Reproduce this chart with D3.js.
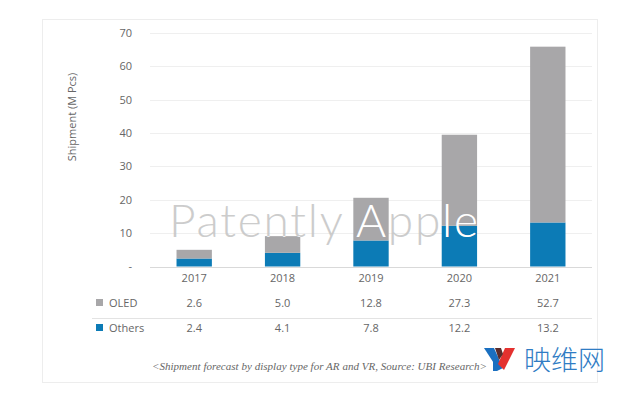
<!DOCTYPE html>
<html>
<head>
<meta charset="utf-8">
<script src="https://cdn.jsdelivr.net/npm/d3@7"></script>
<style>
  body { margin: 0; background: #fff; }
  svg { display: block; }
</style>
</head>
<body>
<div id="canvas"></div>
<script>
var years = ["2017", "2018", "2019", "2020", "2021"];
var oled = [2.6, 5.0, 12.8, 27.3, 52.7];
var others = [2.4, 4.1, 7.8, 12.2, 13.2];
var yTicks = [0, 10, 20, 30, 40, 50, 60, 70];
var seriesNames = ["OLED", "Others"];
var seriesColors = ["#a8a7a9", "#0c7bb6"];

var width = 640, height = 395;
var font = "'Open Sans', 'Noto Sans', sans-serif";
var svg = d3.select("#canvas").append("svg").attr("width", width).attr("height", height);

// panel
svg.append("rect").attr("x", 42.5).attr("y", 19.5).attr("width", 555).attr("height", 363)
    .attr("fill", "#fff").attr("stroke", "#ededed");

var x = d3.scaleBand().domain(years).range([150, 592]).paddingInner(0.6).paddingOuter(0.3);
var y = d3.scaleLinear().domain([0, 70]).range([266.5, 33]);

// grid
svg.selectAll("line.grid").data(yTicks).enter().append("line")
    .attr("class", "grid")
    .attr("x1", 150).attr("x2", 592)
    .attr("y1", function(d) { return Math.round(y(d)) + 0.5; })
    .attr("y2", function(d) { return Math.round(y(d)) + 0.5; })
    .attr("stroke", function(d) { return d == 0 ? "#d9d9d9" : "#efefef"; })
    .attr("stroke-width", 1);

svg.selectAll("text.ytick").data(yTicks).enter().append("text")
    .attr("class", "ytick")
    .attr("x", 132).attr("y", function(d) { return y(d); })
    .attr("dy", "0.35em")
    .attr("text-anchor", "end")
    .style("font-family", font).style("font-size", "11px").style("fill", "#666")
    .text(function(d) { return d == 0 ? "-" : d; });

svg.append("text")
    .attr("transform", "translate(76,117) rotate(-90)")
    .attr("text-anchor", "middle")
    .style("font-family", font).style("font-size", "11px").style("fill", "#666")
    .text("Shipment (M Pcs)");

// stacked bars
var rows = years.map(function(yr, i) { return { year: yr, OLED: oled[i], Others: others[i] }; });
var stack = d3.stack().keys(["Others", "OLED"])(rows);
var bars = svg.append("g");
stack.forEach(function(layer) {
    var col = seriesColors[seriesNames.indexOf(layer.key)];
    bars.selectAll(null).data(layer).enter().append("rect")
        .attr("x", function(d) { return x(d.data.year); })
        .attr("width", x.bandwidth())
        .attr("y", function(d) { return y(d[1]); })
        .attr("height", function(d) { return y(d[0]) - y(d[1]); })
        .attr("fill", col);
});

// clip for watermark inside bars
var clip = svg.append("clipPath").attr("id", "barclip");
rows.forEach(function(d) {
    clip.append("rect").attr("x", x(d.year)).attr("width", x.bandwidth())
        .attr("y", y(d.OLED + d.Others)).attr("height", y(0) - y(d.OLED + d.Others));
});

// watermark
function mark(g, fill) {
    return g.append("text")
        .attr("x", 169).attr("y", 237)
        .attr("textLength", 309)
        .style("font-family", "Lato, 'Open Sans', sans-serif")
        .style("font-weight", 300)
        .style("font-size", "46px")
        .style("fill", fill)
        .text("Patently Apple");
}
mark(svg, "#c4c4c4").style("opacity", 0.85);
mark(svg.append("g").attr("clip-path", "url(#barclip)"), "#ffffff");

// table
svg.selectAll("text.year").data(years).enter().append("text")
    .attr("class", "year")
    .attr("x", function(d) { return x(d) + x.bandwidth() / 2; })
    .attr("y", 282)
    .attr("text-anchor", "middle")
    .style("font-family", font).style("font-size", "11px").style("fill", "#666")
    .text(function(d) { return d; });

var tableRows = [oled, others];
var rowY = [307, 332];
tableRows.forEach(function(vals, r) {
    svg.append("rect").attr("x", 96).attr("y", rowY[r] - 8).attr("width", 7).attr("height", 7)
        .attr("fill", seriesColors[r]);
    svg.append("text").attr("x", 109).attr("y", rowY[r])
        .style("font-family", font).style("font-size", "11px").style("fill", "#666")
        .text(seriesNames[r]);
    svg.selectAll(null).data(vals).enter().append("text")
        .attr("x", function(d, i) { return x(years[i]) + x.bandwidth() / 2; })
        .attr("y", rowY[r])
        .attr("text-anchor", "middle")
        .style("font-family", font).style("font-size", "11px").style("fill", "#666")
        .text(function(d) { return d.toFixed(1); });
});
svg.append("line").attr("x1", 92).attr("x2", 592).attr("y1", 318.5).attr("y2", 318.5)
    .attr("stroke", "#e3e3e3");

// caption
svg.append("text")
    .attr("x", 152).attr("y", 370)
    .attr("textLength", 335)
    .style("font-family", "'Liberation Serif', serif")
    .style("font-style", "italic")
    .style("font-size", "11px").style("fill", "#666")
    .text("<Shipment forecast by display type for AR and VR, Source: UBI Research>");

// site logo
var logo = svg.append("g");
logo.append("polygon").attr("points", "484,348 494,348 503,368 497,368").attr("fill", "#1a6fc0");
logo.append("polygon").attr("points", "497,358 503,368 497,371 493,371 493,360").attr("fill", "#1a6fc0");
logo.append("polygon").attr("points", "505,348 515,348 504,370 498,364").attr("fill", "#e4312f");
logo.append("polygon").attr("points", "495,348 501,348 503,354 499,360").attr("fill", "#5a2b2b");
logo.append("text")
    .attr("x", 524).attr("y", 370)
    .style("font-family", "'Noto Sans CJK SC', sans-serif")
    .style("font-weight", 300)
    .style("font-size", "27px").style("fill", "#2f7cc4")
    .text("映维网");
</script>
</body>
</html>
